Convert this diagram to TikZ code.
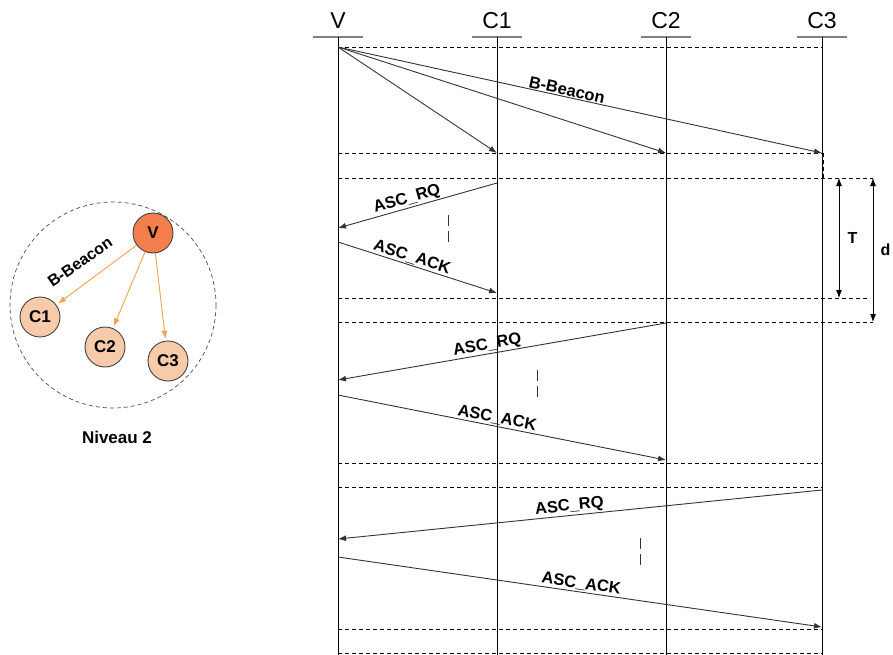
\documentclass[tikz,border=0pt]{standalone}
\usepackage{fontspec}
\setmainfont{Liberation Sans}
\usetikzlibrary{arrows, arrows.meta, positioning}

\definecolor{vfill}{HTML}{F47F4C}
\definecolor{cfill}{HTML}{F7CBAA}
\definecolor{beam}{HTML}{F9A04A}

\tikzset{
  msg/.style={->, draw=black!80, line width=0.9pt},
  lbl/.style={font=\bfseries\fontsize{16.5}{16}\selectfont, sloped, above, inner sep=1pt},
  sep/.style={dashed, dash pattern=on 4pt off 3pt, line width=0.7pt},
  station/.style={circle, draw=black!75, line width=0.9pt, minimum size=40pt, inner sep=0pt,
    font=\bfseries\fontsize{17}{17}\selectfont},
}

\begin{document}
\begin{tikzpicture}[>={Latex[length=8pt,width=6pt]}, x=1pt, y=-1pt]
  \useasboundingbox (0,0) rectangle (893,655);

  % left part: niveau 2
  \draw[sep, black!70] (113,305) circle (103);
  \node[station, fill=vfill] at (153,233) (v) {V};
  \node[station, fill=cfill] at (40,317) (c1) {C1};
  \node[station, fill=cfill] at (105,347) (c2) {C2};
  \node[station, fill=cfill] at (168,361) (c3) {C3};
  \foreach \c in {c1, c2, c3} {
      \draw[->, beam, line width=0.9pt, shorten >=2pt] (v) -- (\c);
  };
  \node[rotate=35, font=\bfseries\fontsize{16}{16}\selectfont] at (80,262) (bb) {B-Beacon};
  \node[font=\bfseries\fontsize{17}{17}\selectfont] at (117,437) (niv) {Niveau 2};

  % lifelines
  \foreach \n/\x in {V/338, C1/497, C2/666, C3/822} {
      \draw[black!50, line width=1.5pt] (\x-25,37) -- (\x+25,37);
      \node[font=\fontsize{23}{23}\selectfont] at (\x,21) (head\n) {\n};
      \draw[line width=0.8pt] (\x,37) -- (\x,655);
  };

  % separators
  \foreach \y in {47, 153, 463, 487, 629, 653} {
      \draw[sep] (338,\y) -- (822,\y);
  };
  \draw[sep] (338,178) -- (873,178);
  \draw[sep] (338,298) -- (870,298);
  \draw[sep] (338,322) -- (873,322);
  \draw[sep] (823,153) -- (823,178);

  % end points
  \coordinate (b0) at (338,47);
  \coordinate (b1) at (497,153);
  \coordinate (b2) at (666,153);
  \coordinate (b3) at (822,153);
  \coordinate (rq1s) at (497,183);
  \coordinate (rq1e) at (338,228);
  \coordinate (ack1s) at (338,242);
  \coordinate (ack1e) at (497,293);
  \coordinate (rq2s) at (666,323);
  \coordinate (rq2e) at (338,380);
  \coordinate (ack2s) at (338,395);
  \coordinate (ack2e) at (666,460);
  \coordinate (rq3s) at (822,490);
  \coordinate (rq3e) at (338,539);
  \coordinate (ack3s) at (338,557);
  \coordinate (ack3e) at (822,627);

  % messages
  \draw[msg] (b0) -- (b1);
  \draw[msg] (b0) -- (b2);
  \draw[msg] (b0) -- node[lbl, pos=0.47] {B-Beacon} (b3);
  \draw[msg] (rq1s) -- node[lbl, pos=0.55] {ASC\_RQ} (rq1e);
  \draw[msg] (ack1s) -- node[lbl, pos=0.45] {ASC\_ACK} (ack1e);
  \draw[msg] (rq2s) -- node[lbl, pos=0.54] {ASC\_RQ} (rq2e);
  \draw[msg] (ack2s) -- node[lbl, pos=0.48] {ASC\_ACK} (ack2e);
  \draw[msg] (rq3s) -- node[lbl, pos=0.52] {ASC\_RQ} (rq3e);
  \draw[msg] (ack3s) -- node[lbl, pos=0.5] {ASC\_ACK} (ack3e);

  % waiting marks
  \foreach \x/\y in {448/215, 537/370, 640/538} {
      \draw[line width=0.9pt, black!80, dash pattern=on 11pt off 5pt] (\x,\y) -- (\x,\y+27);
  };

  % durations
  \coordinate (ttop) at (839,178);
  \coordinate (tbot) at (839,298);
  \coordinate (dtop) at (873,178);
  \coordinate (dbot) at (873,322);
  \draw[<->, line width=0.8pt] (ttop) -- node[right=5pt, font=\bfseries\fontsize{16}{16}\selectfont] (tlbl) {T} (tbot);
  \draw[<->, line width=0.8pt] (dtop) -- node[right=4pt, font=\bfseries\fontsize{16}{16}\selectfont] (dlbl) {d} (dbot);
\end{tikzpicture}
\end{document}
